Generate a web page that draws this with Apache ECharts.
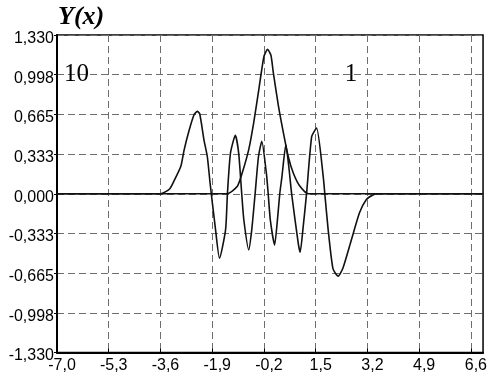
<!DOCTYPE html>
<html>
<head>
<meta charset="utf-8">
<script src="https://cdn.jsdelivr.net/npm/echarts@6/dist/echarts.min.js"></script>
<style>
  html, body { margin: 0; padding: 0; background: #fff; }
  #chart { width: 490px; height: 381px; }
</style>
</head>
<body>
<div id="chart"></div>
<script>
// tick values and labels
const xTicks = [-7.0, -5.3, -3.6, -1.9, -0.2, 1.5, 3.2, 4.9, 6.6];
const xLabels = ['-7,0', '-5,3', '-3,6', '-1,9', '-0,2', '1,5', '3,2', '4,9', '6,6'];
const yTicks = [-1.33, -0.9975, -0.665, -0.3325, 0, 0.3325, 0.665, 0.9975, 1.33];
const yLabels = ['-1,330', '-0,998', '-0,665', '-0,333', '0,000', '0,333', '0,665', '0,998', '1,330'];

// curve "1" (single pulse)
const x1 = [-7, -1.41, -1.08, -0.92, -0.7, -0.54, -0.37, -0.2, -0.08, 0.03, 0.11, 0.28, 0.44, 0.6, 0.77, 0.99, 1.26, 7];
const y1 = [0, 0, 0.06, 0.17, 0.37, 0.59, 0.87, 1.15, 1.21, 1.16, 1.01, 0.73, 0.51, 0.31, 0.17, 0.06, 0, 0];

// curve "10" (oscillating packet)
const x10 = [-7, -3.6, -3.3, -3.15, -2.93, -2.82, -2.66, -2.5, -2.39, -2.31, -2.17, -2.06, -1.97, -1.8, -1.66,
  -1.46, -1.4, -1.3, -1.14, -1.03, -0.93, -0.86, -0.7, -0.6, -0.49, -0.38, -0.27, -0.12, -0.06, 0.01, 0.15,
  0.25, 0.32, 0.39, 0.52, 0.62, 0.71, 0.93, 0.99, 1.08, 1.2, 1.37, 1.53, 1.75, 1.8, 1.91, 2.07, 2.24, 2.4,
  2.67, 2.94, 3.16, 3.38, 3.54, 7];
const y10 = [0, 0, 0.04, 0.11, 0.23, 0.37, 0.53, 0.66, 0.69, 0.67, 0.45, 0.31, 0.09, -0.28, -0.54,
  -0.3, 0, 0.34, 0.49, 0.34, 0, -0.22, -0.47, -0.3, 0, 0.31, 0.44, 0.17, 0, -0.22, -0.43,
  -0.2, 0, 0.14, 0.41, 0.22, 0, -0.42, -0.49, -0.3, 0, 0.48, 0.55, 0.14, 0, -0.3, -0.63, -0.69, -0.62,
  -0.39, -0.16, -0.05, -0.01, 0, 0];

const zip = (xs, ys) => xs.map((x, i) => [x, ys[i]]);
const nearestLabel = (ticks, labels, v) => {
  let best = 0;
  ticks.forEach((t, i) => { if (Math.abs(t - v) < Math.abs(ticks[best] - v)) best = i; });
  return labels[best];
};

const tickFont = "'Liberation Sans', Arial, sans-serif";
const serif = "'Liberation Serif', 'Times New Roman', serif";

const chart = echarts.init(document.getElementById('chart'));

chart.setOption({
  animation: false,
  backgroundColor: '#fff',
  title: {
    text: '{a|Y}{b|(x)}',
    left: 53,
    top: -1,
    textStyle: {
      rich: {
        a: { fontFamily: serif, fontSize: 26, fontStyle: 'italic', fontWeight: 'bold', color: '#000' },
        b: { fontFamily: serif, fontSize: 26, fontStyle: 'italic', color: '#000' }
      }
    }
  },
  grid: {
    left: 57,
    top: 35,
    right: 4,
    bottom: 28.5,
    show: true,
    borderColor: '#000',
    borderWidth: 1.5
  },
  xAxis: {
    type: 'value',
    min: -7,
    max: 7,
    axisLine: { show: true, onZero: false, lineStyle: { color: '#000', width: 2 } },
    axisTick: { show: true, inside: true, length: 4, customValues: xTicks, lineStyle: { color: '#000' } },
    axisLabel: {
      customValues: xTicks,
      formatter: v => nearestLabel(xTicks, xLabels, v),
      fontFamily: tickFont,
      fontSize: 16,
      color: '#000',
      margin: 5,
      padding: [0, 0, 0, 10]
    },
    splitLine: { show: true, lineStyle: { color: '#6e6e6e', type: [7, 4], width: 1 } }
  },
  yAxis: {
    type: 'value',
    min: -1.33,
    max: 1.33,
    axisLine: { show: true, onZero: false, lineStyle: { color: '#000', width: 2 } },
    axisTick: { show: true, length: 3, customValues: yTicks, lineStyle: { color: '#000' } },
    axisLabel: {
      customValues: yTicks,
      formatter: v => '{t|' + nearestLabel(yTicks, yLabels, v) + '}',
      color: '#000',
      margin: 3,
      rich: {
        t: { fontFamily: tickFont, fontSize: 16, color: '#000', padding: [7, 0, 0, 0] }
      }
    },
    splitLine: { show: true, lineStyle: { color: '#6e6e6e', type: [7, 4], width: 1 } }
  },
  series: [
    {
      name: '1',
      type: 'line',
      data: zip(x1, y1),
      showSymbol: false,
      smooth: 0.2,
      lineStyle: { color: '#111', width: 1.6 },
      markPoint: {
        symbol: 'circle',
        symbolSize: 0,
        label: { show: true, position: 'inside', formatter: '1', fontFamily: serif, fontSize: 25, color: '#000' },
        data: [{ coord: [2.66, 1.0] }]
      }
    },
    {
      name: '10',
      type: 'line',
      data: zip(x10, y10),
      showSymbol: false,
      smooth: 0.2,
      lineStyle: { color: '#111', width: 1.6 },
      markPoint: {
        symbol: 'circle',
        symbolSize: 0,
        label: { show: true, position: 'inside', formatter: '10', fontFamily: serif, fontSize: 25, color: '#000' },
        data: [{ coord: [-6.36, 1.0] }]
      }
    }
  ]
});
</script>
</body>
</html>
